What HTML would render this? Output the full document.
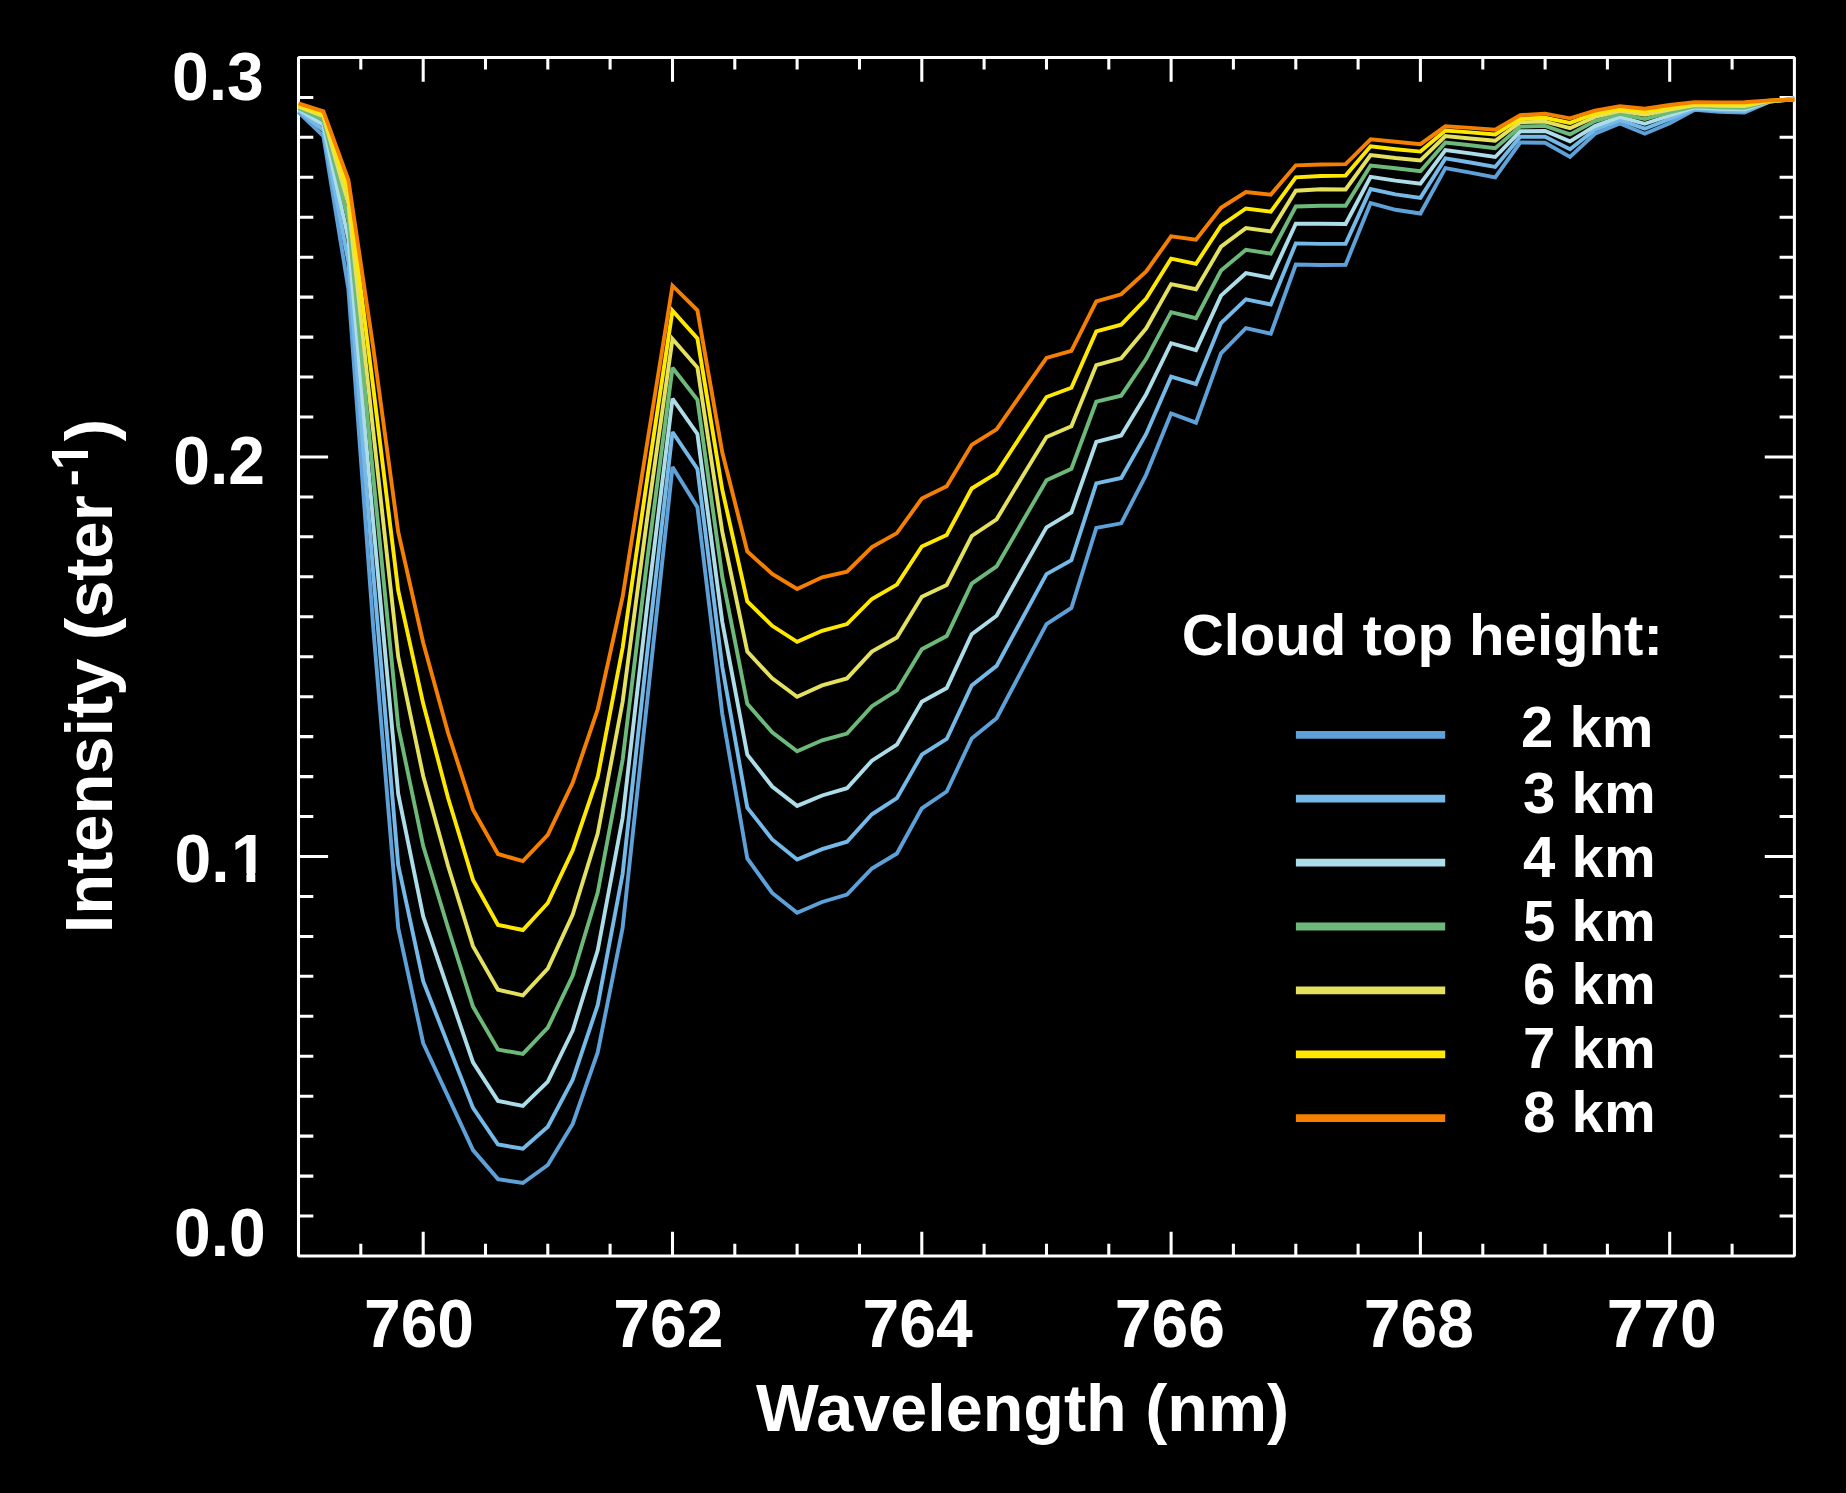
<!DOCTYPE html>
<html lang="en"><head><meta charset="utf-8"><title>Cloud top height spectra</title>
<style>html,body{margin:0;padding:0;background:#000}svg{display:block}text{font-family:"Liberation Sans",sans-serif;font-weight:bold;fill:#fff}</style></head><body>
<svg width="1846" height="1493" viewBox="0 0 1846 1493">
<rect width="1846" height="1493" fill="#000"/>
<defs><clipPath id="ca"><path clip-rule="evenodd" d="M-20 -80H130V20H-20ZM58.4 -9H71.8V2H58.4ZM80.7 -9H94V2H80.7Z"/></clipPath><clipPath id="cb"><path clip-rule="evenodd" d="M-20 -90H540V40H-20ZM464.8 -31.5H475.3V-22H464.8ZM482.2 -31.5H492V-22H482.2Z"/></clipPath></defs>
<path d="M360.8 57.4v12.2M360.8 1256v-12.2M423.2 57.4v24.3M423.2 1256v-24.3M485.5 57.4v12.2M485.5 1256v-12.2M547.8 57.4v12.2M547.8 1256v-12.2M610.1 57.4v12.2M610.1 1256v-12.2M672.5 57.4v24.3M672.5 1256v-24.3M734.8 57.4v12.2M734.8 1256v-12.2M797.1 57.4v12.2M797.1 1256v-12.2M859.5 57.4v12.2M859.5 1256v-12.2M921.8 57.4v24.3M921.8 1256v-24.3M984.1 57.4v12.2M984.1 1256v-12.2M1046.5 57.4v12.2M1046.5 1256v-12.2M1108.8 57.4v12.2M1108.8 1256v-12.2M1171.1 57.4v24.3M1171.1 1256v-24.3M1233.4 57.4v12.2M1233.4 1256v-12.2M1295.8 57.4v12.2M1295.8 1256v-12.2M1358.1 57.4v12.2M1358.1 1256v-12.2M1420.4 57.4v24.3M1420.4 1256v-24.3M1482.8 57.4v12.2M1482.8 1256v-12.2M1545.1 57.4v12.2M1545.1 1256v-12.2M1607.4 57.4v12.2M1607.4 1256v-12.2M1669.7 57.4v24.3M1669.7 1256v-24.3M1732.1 57.4v12.2M1732.1 1256v-12.2M298.5 1216h14.8M1794.4 1216h-14.8M298.5 1176.1h14.8M1794.4 1176.1h-14.8M298.5 1136.1h14.8M1794.4 1136.1h-14.8M298.5 1096.2h14.8M1794.4 1096.2h-14.8M298.5 1056.2h14.8M1794.4 1056.2h-14.8M298.5 1016.3h14.8M1794.4 1016.3h-14.8M298.5 976.3h14.8M1794.4 976.3h-14.8M298.5 936.4h14.8M1794.4 936.4h-14.8M298.5 896.4h14.8M1794.4 896.4h-14.8M298.5 856.5h29.6M1794.4 856.5h-29.6M298.5 816.5h14.8M1794.4 816.5h-14.8M298.5 776.6h14.8M1794.4 776.6h-14.8M298.5 736.6h14.8M1794.4 736.6h-14.8M298.5 696.7h14.8M1794.4 696.7h-14.8M298.5 656.7h14.8M1794.4 656.7h-14.8M298.5 616.7h14.8M1794.4 616.7h-14.8M298.5 576.8h14.8M1794.4 576.8h-14.8M298.5 536.8h14.8M1794.4 536.8h-14.8M298.5 496.9h14.8M1794.4 496.9h-14.8M298.5 456.9h29.6M1794.4 456.9h-29.6M298.5 417h14.8M1794.4 417h-14.8M298.5 377h14.8M1794.4 377h-14.8M298.5 337.1h14.8M1794.4 337.1h-14.8M298.5 297.1h14.8M1794.4 297.1h-14.8M298.5 257.2h14.8M1794.4 257.2h-14.8M298.5 217.2h14.8M1794.4 217.2h-14.8M298.5 177.3h14.8M1794.4 177.3h-14.8M298.5 137.3h14.8M1794.4 137.3h-14.8M298.5 97.4h14.8M1794.4 97.4h-14.8" stroke="#fff" stroke-width="3.05" fill="none"/>
<rect x="298.5" y="57.4" width="1495.9" height="1198.6" fill="none" stroke="#fff" stroke-linejoin="bevel" stroke-width="3.05"/>
<g fill="none" stroke-width="3.9" stroke-linejoin="miter" stroke-miterlimit="2.52" stroke-linecap="butt">
<polyline stroke="#5EA1D8" points="298.5,112.1 323.4,136.2 348.4,289 373.3,628 398.2,928 423.2,1043.2 448.1,1096.6 473,1150.1 498,1179.1 522.9,1183 547.8,1165 572.7,1123.9 597.7,1052.4 622.6,928 647.5,698 672.5,467 697.4,507.2 722.3,714 747.3,858.5 772.2,893 797.1,912.7 822.1,902 847,894.6 871.9,868.5 896.9,853.5 921.8,808.3 946.7,791.5 971.7,738.5 996.6,718.2 1021.5,671.1 1046.5,624 1071.4,608 1096.3,527.9 1121.2,523.3 1146.2,474.6 1171.1,413.5 1196,422.7 1221,353.3 1245.9,328.1 1270.8,333.7 1295.8,264.5 1320.7,265 1345.6,264.7 1370.6,203 1395.5,209.8 1420.4,213.5 1445.4,168.1 1470.3,172.6 1495.2,177.4 1520.2,142.5 1545.1,142.8 1570,156.9 1594.9,133.8 1619.9,123.5 1644.8,133.7 1669.7,123.2 1694.7,109.8 1719.6,111.7 1744.5,112.6 1769.5,101.8 1794.4,98.3"/>
<polyline stroke="#74B9E7" points="298.5,110.8 323.4,130.2 348.4,262 373.3,574 398.2,865 423.2,981.2 448.1,1044.6 473,1107.9 498,1144.5 522.9,1148.7 547.8,1126.7 572.7,1079.7 597.7,1005.2 622.6,874 647.5,650 672.5,432 697.4,469 722.3,667 747.3,807.6 772.2,839.4 797.1,859.5 822.1,849.1 847,841.7 871.9,814.3 896.9,798.2 921.8,754.7 946.7,739 971.7,685.5 996.6,665.9 1021.5,620 1046.5,574.1 1071.4,560.2 1096.3,483.4 1121.2,478 1146.2,434 1171.1,376.7 1196,384.2 1221,323.1 1245.9,299.4 1270.8,304.5 1295.8,243.4 1320.7,243.9 1345.6,243.8 1370.6,189.1 1395.5,194.4 1420.4,197.9 1445.4,158.4 1470.3,162.5 1495.2,166.9 1520.2,136.7 1545.1,136.7 1570,149.2 1594.9,129.6 1619.9,120.1 1644.8,128.7 1669.7,119 1694.7,108.7 1719.6,110.2 1744.5,111 1769.5,101.6 1794.4,98.8"/>
<polyline stroke="#ADDDE8" points="298.5,109.4 323.4,124.8 348.4,239 373.3,524 398.2,794 423.2,916.5 448.1,989.7 473,1062.3 498,1100.9 522.9,1105.9 547.8,1081.7 572.7,1030.5 597.7,950.3 622.6,818 647.5,603 672.5,398.7 697.4,433.9 722.3,622 747.3,754.7 772.2,786.5 797.1,805.9 822.1,795.5 847,788.2 871.9,760.7 896.9,744.7 921.8,701.8 946.7,688 971.7,634.2 996.6,615.7 1021.5,571.3 1046.5,527.3 1071.4,512.5 1096.3,441.8 1121.2,435.5 1146.2,394.2 1171.1,343.2 1196,350.1 1221,295.6 1245.9,273.2 1270.8,277.8 1295.8,223.8 1320.7,223.8 1345.6,224 1370.6,176.8 1395.5,180.6 1420.4,183.7 1445.4,150 1470.3,153.4 1495.2,157 1520.2,131.3 1545.1,131 1570,141.4 1594.9,126.1 1619.9,116.9 1644.8,123.8 1669.7,115.5 1694.7,107.5 1719.6,108.8 1744.5,109.4 1769.5,101.3 1794.4,99.1"/>
<polyline stroke="#6DB97A" points="298.5,108 323.4,120.1 348.4,220 373.3,477 398.2,726.3 423.2,846.1 448.1,928 473,1006.6 498,1049.6 522.9,1053.9 547.8,1027.7 572.7,975.6 597.7,892.6 622.6,760 647.5,558 672.5,367.8 697.4,399.7 722.3,577 747.3,703.8 772.2,732.3 797.1,751.3 822.1,740.3 847,733.6 871.9,706.2 896.9,690.4 921.8,649.2 946.7,636 971.7,583.6 996.6,566.4 1021.5,523.3 1046.5,480.2 1071.4,468.8 1096.3,401.7 1121.2,395.7 1146.2,358.8 1171.1,312.2 1196,318.2 1221,270.6 1245.9,249.8 1270.8,253.6 1295.8,206.5 1320.7,205.8 1345.6,205.8 1370.6,165.5 1395.5,168.2 1420.4,171.3 1445.4,142.5 1470.3,145.3 1495.2,148.2 1520.2,126.6 1545.1,125.9 1570,134.4 1594.9,121.1 1619.9,113.9 1644.8,119.1 1669.7,112.3 1694.7,106.3 1719.6,107.3 1744.5,107.8 1769.5,101.1 1794.4,99.4"/>
<polyline stroke="#E3E15E" points="298.5,106.7 323.4,116.1 348.4,204 373.3,432 398.2,656.6 423.2,776 448.1,866 473,946.1 498,989.7 522.9,995.3 547.8,968.6 572.7,914.5 597.7,833.5 622.6,702 647.5,516 672.5,339 697.4,367.5 722.3,532 747.3,651.6 772.2,678.4 797.1,696.8 822.1,685.4 847,678.4 871.9,651.6 896.9,637.5 921.8,596.7 946.7,585 971.7,536 996.6,519.3 1021.5,478 1046.5,437 1071.4,426.3 1096.3,365.1 1121.2,358.3 1146.2,328.3 1171.1,284.1 1196,289.2 1221,246.7 1245.9,228.1 1270.8,231.5 1295.8,190.7 1320.7,189.2 1345.6,189.5 1370.6,155 1395.5,158 1420.4,160.4 1445.4,136 1470.3,138.5 1495.2,140.8 1520.2,122.2 1545.1,121.6 1570,128.2 1594.9,116.9 1619.9,110.9 1644.8,114.8 1669.7,109.5 1694.7,105 1719.6,105.8 1744.5,106 1769.5,100.9 1794.4,99.6"/>
<polyline stroke="#FFE800" points="298.5,105.4 323.4,113.8 348.4,191 373.3,388 398.2,590.5 423.2,703.6 448.1,798 473,879.9 498,924.9 522.9,930 547.8,903 572.7,850.4 597.7,777 622.6,648 647.5,477 672.5,310.7 697.4,338.4 722.3,490 747.3,601.4 772.2,625.8 797.1,641.9 822.1,630.8 847,624.1 871.9,599 896.9,584.6 921.8,546.5 946.7,535 971.7,488.5 996.6,473.1 1021.5,434.9 1046.5,397 1071.4,387.8 1096.3,331.4 1121.2,324.7 1146.2,298.5 1171.1,258.7 1196,263.8 1221,225.6 1245.9,208.5 1270.8,211.6 1295.8,177.3 1320.7,176 1345.6,175.6 1370.6,146.3 1395.5,149.2 1420.4,151.6 1445.4,130.6 1470.3,132.4 1495.2,134.4 1520.2,118.7 1545.1,117.8 1570,122.9 1594.9,113.4 1619.9,108.5 1644.8,111.3 1669.7,107.4 1694.7,103.9 1719.6,104.2 1744.5,104.3 1769.5,100.6 1794.4,99.8"/>
<polyline stroke="#F57F00" points="298.5,103.4 323.4,111.4 348.4,180 373.3,348 398.2,532 423.2,642.7 448.1,733 473,809.6 498,854 522.9,861.1 547.8,834.9 572.7,782.8 597.7,709.5 622.6,597 647.5,441 672.5,285.7 697.4,310.3 722.3,452.5 747.3,551.5 772.2,573.9 797.1,589 822.1,577.3 847,571.6 871.9,547.1 896.9,533.1 921.8,498.6 946.7,486.2 971.7,444.8 996.6,429.4 1021.5,393.6 1046.5,357.9 1071.4,350.8 1096.3,301.3 1121.2,294.3 1146.2,271.4 1171.1,236.3 1196,239.6 1221,207.8 1245.9,192 1270.8,194.6 1295.8,165.3 1320.7,164.5 1345.6,164.1 1370.6,139.3 1395.5,141.8 1420.4,144.2 1445.4,126.3 1470.3,127.9 1495.2,129.7 1520.2,115.1 1545.1,113.7 1570,118.3 1594.9,110.6 1619.9,106.1 1644.8,108.7 1669.7,105 1694.7,102.1 1719.6,102.4 1744.5,102.3 1769.5,100.4 1794.4,99.9"/>
</g>
<g stroke-width="7.8" fill="none">
<path d="M1295.9 734.8H1445.2" stroke="#5EA1D8"/>
<path d="M1295.9 798.7H1445.2" stroke="#74B9E7"/>
<path d="M1295.9 862.6H1445.2" stroke="#ADDDE8"/>
<path d="M1295.9 926.5H1445.2" stroke="#6DB97A"/>
<path d="M1295.9 990.4H1445.2" stroke="#E3E15E"/>
<path d="M1295.9 1054.3H1445.2" stroke="#FFE800"/>
<path d="M1295.9 1118.2H1445.2" stroke="#F57F00"/>
</g>
<g font-size="58.15">
<text x="1181.7" y="655.4">Cloud top height:</text>
<text x="1521" y="747.2">2 km</text>
<text x="1523.1" y="813.4">3 km</text>
<text x="1523.1" y="877">4 km</text>
<text x="1523.1" y="940.7">5 km</text>
<text x="1523.1" y="1004.3">6 km</text>
<text x="1523.1" y="1068">7 km</text>
<text x="1523.1" y="1131.6">8 km</text>
</g>
<g font-size="66">
<text transform="translate(172 100.3) scale(1 1.04)">0.3</text>
<text transform="translate(173.2 483.5) scale(1 1.04)">0.2</text>
<text transform="translate(174 1255.5) scale(1 1.04)">0.0</text>
<text transform="translate(174.6 882.4) scale(1 1.04)" clip-path="url(#ca)">0.<tspan x="56.3">1</tspan></text>
</g><g font-size="66" text-anchor="middle">
<text transform="translate(419 1346.9) scale(1 1.04)">760</text>
<text transform="translate(668.3 1346.9) scale(1 1.04)">762</text>
<text transform="translate(917.6 1346.9) scale(1 1.04)">764</text>
<text transform="translate(1169.9 1346.9) scale(1 1.04)">766</text>
<text transform="translate(1418.9 1346.9) scale(1 1.04)">768</text>
<text transform="translate(1661.7 1346.9) scale(1 1.04)">770</text>
</g>
<text x="756" y="1430.9" font-size="66.5">Wavelength (nm)</text>
<text transform="translate(112 933.3) rotate(-90)" font-size="66.8" clip-path="url(#cb)">Intensity (ster<tspan x="447" dy="-23.7" font-size="51">-</tspan><tspan x="463.3" font-size="51">1</tspan><tspan x="492" dy="23.7">)</tspan></text>
</svg></body></html>
